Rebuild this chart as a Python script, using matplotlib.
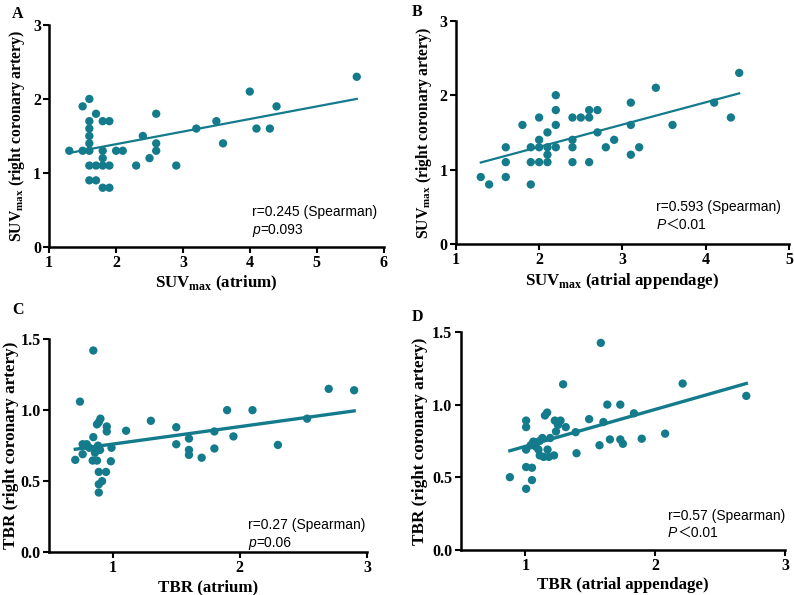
import numpy as np
import matplotlib
matplotlib.use('Agg')
import matplotlib.pyplot as plt

# Panel A: SUVmax atrium vs right coronary artery
a_x = [1.3, 1.5, 1.5, 1.6, 1.6, 1.6, 1.6, 1.6, 1.6, 1.6, 1.6, 1.7, 1.7, 1.7,
       1.8, 1.8, 1.8, 1.8, 1.8, 1.9, 1.9, 1.9, 2.0, 2.1, 2.3, 2.4, 2.5, 2.6,
       2.6, 2.6, 2.9, 3.2, 3.5, 3.6, 4.0, 4.1, 4.3, 4.4, 5.6]
a_y = [1.3, 1.9, 1.3, 2.0, 1.7, 1.6, 1.5, 1.4, 1.3, 1.1, 0.9, 1.8, 1.1, 0.9,
       1.7, 1.3, 1.2, 1.1, 0.8, 1.7, 1.1, 0.8, 1.3, 1.3, 1.1, 1.5, 1.2, 1.8,
       1.4, 1.3, 1.1, 1.6, 1.7, 1.4, 2.1, 1.6, 1.6, 1.9, 2.3]

# Panel B: SUVmax atrial appendage vs right coronary artery
b_x = [1.3, 1.4, 1.6, 1.6, 1.6, 1.8, 1.9, 1.9, 1.9, 2.0, 2.0, 2.0, 2.0, 2.1,
       2.1, 2.1, 2.1, 2.2, 2.2, 2.2, 2.2, 2.4, 2.4, 2.4, 2.4, 2.5, 2.6, 2.6,
       2.6, 2.7, 2.7, 2.8, 2.9, 3.1, 3.1, 3.1, 3.2, 3.4, 3.6, 4.1, 4.3, 4.4]
b_y = [0.9, 0.8, 1.3, 1.1, 0.9, 1.6, 1.3, 1.1, 0.8, 1.7, 1.4, 1.3, 1.1, 1.5,
       1.3, 1.2, 1.1, 2.0, 1.8, 1.6, 1.3, 1.7, 1.4, 1.3, 1.1, 1.7, 1.8, 1.7,
       1.1, 1.8, 1.5, 1.3, 1.4, 1.9, 1.6, 1.2, 1.3, 2.1, 1.6, 1.9, 1.7, 2.3]

# Panel C: TBR atrium vs right coronary artery
c_x = [0.847, 0.742, 0.705, 0.763, 0.795, 0.816, 0.763, 0.847, 0.876, 0.89,
       0.903, 0.953, 0.953, 0.884, 0.90, 0.842, 0.876, 0.89, 0.947, 0.916,
       0.89, 0.89, 0.99, 0.985, 0.78, 0.87, 0.86, 1.105, 1.30, 1.50, 1.50,
       1.60, 1.60, 1.60, 1.70, 1.80, 1.80, 1.90, 1.95, 2.10, 2.30, 2.53,
       2.70, 2.90]
c_y = [1.42, 1.06, 0.65, 0.76, 0.76, 0.735, 0.69, 0.81, 0.90, 0.915,
       0.94, 0.885, 0.85, 0.75, 0.72, 0.645, 0.645, 0.565, 0.565, 0.50,
       0.478, 0.42, 0.735, 0.64, 0.75, 0.73, 0.70, 0.855, 0.925, 0.88, 0.76,
       0.80, 0.72, 0.685, 0.665, 0.85, 0.73, 1.0, 0.815, 1.0, 0.755, 0.94,
       1.15, 1.14]

# Panel D: TBR atrial appendage vs right coronary artery
d_x = [0.88, 1.005, 1.05, 1.005, 1.05, 1.005, 1.005, 1.005, 1.04, 1.06,
       1.08, 1.11, 1.13, 1.19, 1.10, 1.11, 1.14, 1.18, 1.22, 1.17, 1.08,
       1.15, 1.167, 1.226, 1.27, 1.25, 1.235, 1.31, 1.29, 1.386, 1.393,
       1.49, 1.57, 1.58, 1.60, 1.63, 1.65, 1.73, 1.73, 1.75, 1.835, 1.895,
       2.075, 2.21, 2.70]
d_y = [0.50, 0.42, 0.48, 0.57, 0.565, 0.89, 0.845, 0.69, 0.72, 0.745,
       0.74, 0.75, 0.77, 0.77, 0.69, 0.65, 0.64, 0.64, 0.65, 0.69, 0.71,
       0.925, 0.945, 0.89, 0.89, 0.86, 0.815, 0.845, 1.14, 0.81, 0.665,
       0.90, 0.72, 1.425, 0.88, 1.0, 0.76, 1.0, 0.76, 0.73, 0.94, 0.765,
       0.80, 1.145, 1.06]

# regression lines (slope, intercept)
fits = [(0.170, 1.049), (0.300, 0.705), (0.123, 0.638), (0.2546, 0.458)]

panel_letters = ['A', 'B', 'C', 'D']
x_labels = [r'SUV$_{\mathbf{max}}$ (atrium)',
            r'SUV$_{\mathbf{max}}$ (atrial appendage)',
            'TBR (atrium)', 'TBR (atrial appendage)']
y_labels = [r'SUV$_{\mathbf{max}}$ (right coronary artery)',
            r'SUV$_{\mathbf{max}}$ (right coronary artery)',
            'TBR (right coronary artery)', 'TBR (right coronary artery)']
r_texts = ['r=0.245 (Spearman)', 'r=0.593 (Spearman)',
           'r=0.27 (Spearman)', 'r=0.57 (Spearman)']
p_letters = ['p', 'P', 'p', 'P']
p_rests = ['=0.093', '＜0.01', '=0.06', '＜0.01']

TEAL = '#137B8B'

plt.rcParams['mathtext.fontset'] = 'custom'
plt.rcParams['mathtext.bf'] = 'Liberation Serif:bold'
plt.rcParams['mathtext.rm'] = 'Liberation Serif'


def style_axis(ax, xlim, ylim, xticks, yticks, yfmt):
    ax.set_xlim(*xlim)
    ax.set_ylim(*ylim)
    ax.set_xticks(xticks)
    ax.set_yticks(yticks)
    ax.set_yticklabels([yfmt.format(v) for v in yticks])
    for s in ['top', 'right']:
        ax.spines[s].set_visible(False)
    for s in ['left', 'bottom']:
        ax.spines[s].set_linewidth(1.8)
    ax.tick_params(direction='out', length=4, width=1.5, pad=2)
    for lab in ax.get_xticklabels() + ax.get_yticklabels():
        lab.set_family('Liberation Serif')
        lab.set_weight('bold')
        lab.set_fontsize(11.5)


def main():
    fig = plt.figure(figsize=(7.94, 5.95), dpi=100)

    # axes rectangles in figure fraction
    rects = [[0.062, 0.585, 0.421, 0.373],
             [0.574, 0.590, 0.420, 0.375],
             [0.062, 0.072, 0.400, 0.358],
             [0.580, 0.076, 0.409, 0.366]]
    xs = [a_x, b_x, c_x, d_x]
    ys = [a_y, b_y, c_y, d_y]
    lims = [((1, 6), (0, 3), [1, 2, 3, 4, 5, 6], [0, 1, 2, 3], '{:g}'),
            ((1, 5), (0, 3), [1, 2, 3, 4, 5], [0, 1, 2, 3], '{:g}'),
            ((0.5, 3), (0, 1.5), [1, 2, 3], [0, 0.5, 1.0, 1.5], '{:.1f}'),
            ((0.5, 3), (0, 1.5), [1, 2, 3], [0, 0.5, 1.0, 1.5], '{:.1f}')]
    line_w = [1.6, 1.6, 2.4, 2.4]
    ylab_size = [11.3, 11.3, 12.3, 12.3]
    ylab_pad = [4, 4, 1, 3]
    txt_pos = [(0.607, 0.159, 0.077), (0.601, 0.167, 0.085),
               (0.627, 0.127, 0.041), (0.639, 0.156, 0.077)]
    letter_pos = [(0.015, 0.99), (0.519, 0.993), (0.015, 0.492), (0.519, 0.481)]
    font_txt = ['Liberation Sans', 'Noto Sans CJK SC']

    for i in range(4):
        ax = fig.add_axes(rects[i])
        x = np.array(xs[i])
        y = np.array(ys[i])
        ax.scatter(x, y, s=36, color=TEAL, edgecolors='none', zorder=3,
                   clip_on=False)
        slope, icpt = fits[i]
        fx = np.array([x.min(), x.max()])
        ax.plot(fx, slope * fx + icpt, color=TEAL, linewidth=line_w[i], zorder=2)

        xlim, ylim, xt, yt, fmt = lims[i]
        style_axis(ax, xlim, ylim, xt, yt, fmt)
        ax.set_xlabel(x_labels[i], family='Liberation Serif', weight='bold',
                      fontsize=12.2, labelpad=2)
        ax.set_ylabel(y_labels[i], family='Liberation Serif', weight='bold',
                      fontsize=ylab_size[i], labelpad=ylab_pad[i])

        tx, ty1, ty2 = txt_pos[i]
        ax.text(tx, ty1, r_texts[i], transform=ax.transAxes, family=font_txt,
                fontsize=10, va='center', ha='left')
        t1 = ax.text(tx, ty2, p_letters[i], transform=ax.transAxes,
                     family=font_txt, style='italic', fontsize=10,
                     va='center', ha='left')
        ax.annotate(p_rests[i], xy=(1, 0), xycoords=t1, family=font_txt,
                    fontsize=10, va='bottom', ha='left')

        lx, ly = letter_pos[i]
        fig.text(lx, ly, panel_letters[i], family='Liberation Serif',
                 weight='bold', fontsize=11.5, va='top', ha='left')

    fig.savefig('out.png', dpi=100)


if __name__ == '__main__':
    main()
